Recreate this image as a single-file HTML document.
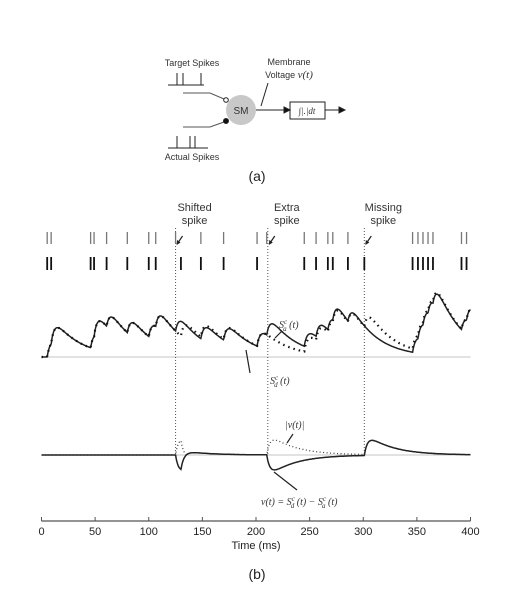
<!DOCTYPE html>
<html><head><meta charset="utf-8"><style>
body{margin:0;background:#fff}
svg{display:block;font-family:"Liberation Sans",sans-serif}
</style></head><body>
<svg id="fig" width="514" height="593" viewBox="0 0 514 593">
<g fill="none" stroke="#222" stroke-width="1">
<text x="192" y="66" font-size="9" text-anchor="middle" fill="#333" stroke="none">Target Spikes</text>
<path d="M168 85H204M177 85V73M183 85V73M201 85V73"/>
<path d="M183 93H210L224 99" stroke="#555"/>
<circle cx="226" cy="100" r="2.3" fill="#fff"/>
<path d="M183 127H210L224 122" stroke="#555"/>
<circle cx="226" cy="121" r="2.5" fill="#111"/>
<path d="M168 148H208M177 148V136M190 148V136M195 148V136"/>
<text x="192" y="160" font-size="9" text-anchor="middle" fill="#333" stroke="none">Actual Spikes</text>
<circle cx="241" cy="110" r="15" fill="#c8c8c8" stroke="none"/>
<text x="241" y="114" font-size="10" text-anchor="middle" fill="#333" stroke="none">SM</text>
<text x="289" y="65" font-size="9" text-anchor="middle" fill="#333" stroke="none">Membrane</text>
<text x="289" y="78" font-size="9" text-anchor="middle" fill="#333" stroke="none">Voltage <tspan font-family="Liberation Serif" font-style="italic" font-size="11">v(t)</tspan></text>
<path d="M268 83L261 106"/>
<path d="M256 110H286"/>
<path d="M284 107L290 110L284 113Z" fill="#111"/>
<rect x="290" y="102" width="35" height="17"/>
<text x="307" y="114" font-size="9" font-family="Liberation Serif" font-style="italic" text-anchor="middle" fill="#333" stroke="none">∫|.|dt</text>
<path d="M325 110H340"/>
<path d="M339 107L345 110L339 113Z" fill="#111"/>
</g>
<text x="257" y="181" font-size="14" text-anchor="middle" fill="#222">(a)</text>
<g id="chart"></g>
<text x="257" y="579" font-size="14" text-anchor="middle" fill="#222">(b)</text>
</svg>
<script>
const actualSpikes=[5.3,9,45.8,49,60.7,80,100,106.5,125,148.6,169.8,201,210,245,256,267,271.6,285.7,346,351,355.7,360.4,365,391.6,396.3];
const desiredSpikes=[5.3,9,45.8,49,60.7,80,100,106.5,130,148.6,169.8,201,245,256,267,271.6,285.7,301,346,351,355.7,360.4,365,391.6,396.3];
const eventTimes=[125,211,301];
const eventLabels=[["Shifted","spike"],["Extra","spike"],["Missing","spike"]];
const xTicks=[0,50,100,150,200,250,300,350,400];

const NS='http://www.w3.org/2000/svg';
const g=document.getElementById('chart');
const X=t=>41.5+t*(429/400);
const base1=357,base2=455,amp=15;
function mk(tag,at,parent){const e=document.createElementNS(NS,tag);for(const k in at)e.setAttribute(k,at[k]);(parent||g).appendChild(e);return e;}
function rawK(t){return t<0?0:Math.exp(-t/24)-Math.exp(-t/3);}
let kmax=0;for(let t=0;t<40;t+=0.1)kmax=Math.max(kmax,rawK(t));
function kern(t){return rawK(t)/kmax;}
function trace(sp,t){let s=0;for(const x of sp)s+=kern(t-x);return s;}
const ts=[];for(let t=0;t<=400;t+=0.5)ts.push(t);
function pathOf(f,base){return ts.map((t,i)=>(i?'L':'M')+X(t).toFixed(1)+' '+(base-f(t)*amp).toFixed(1)).join('');}

let e=mk('line',{x1:X(0),x2:X(400),y1:base1,y2:base1,stroke:'#c4c4c4','stroke-width':1});

e=mk('line',{x1:X(0),x2:X(400),y1:base2,y2:base2,stroke:'#c4c4c4','stroke-width':1});


eventTimes.forEach((t,i)=>{
  let l=mk('line',{x1:X(t),x2:X(t),y1:228,y2:455,stroke:'#555','stroke-width':1,'stroke-dasharray':'1,2'});
  
  let tx=mk('text',{x:X(t)+19,y:211,'font-size':11,'text-anchor':'middle',fill:'#333'});
  
  tx.innerHTML='<tspan x="'+(X(t)+19)+'">'+eventLabels[i][0]+'</tspan><tspan x="'+(X(t)+19)+'" dy="13">'+eventLabels[i][1]+'</tspan>';
  let a=mk('path',{d:'M'+(X(t)+7)+' 236L'+(X(t)+1.5)+' 244',stroke:'#222','stroke-width':1.2,fill:'none'});
  
  let h=mk('path',{d:'M'+(X(t)+1)+' 245l0.5-5l3.5 2.5z',fill:'#222'});
  
});

actualSpikes.forEach(t=>{
  let l=mk('line',{x1:X(t),x2:X(t),y1:232,y2:244,stroke:'#777','stroke-width':1.3});
  
});
desiredSpikes.forEach(t=>{
  let l=mk('line',{x1:X(t),x2:X(t),y1:257,y2:270,stroke:'#111','stroke-width':1.8});
  
});

e=mk('path',{d:pathOf(t=>trace(actualSpikes,t),base1),fill:'none',stroke:'#222','stroke-width':1.5});

e=mk('path',{d:pathOf(t=>trace(desiredSpikes,t),base1),fill:'none',stroke:'#111','stroke-width':2.2,'stroke-dasharray':'1.5,4'});

const diff=t=>trace(desiredSpikes,t)-trace(actualSpikes,t);
e=mk('path',{d:pathOf(t=>Math.abs(diff(t)),base2),fill:'none',stroke:'#444','stroke-width':1.3,'stroke-dasharray':'1,2.5'});

e=mk('path',{d:pathOf(diff,base2),fill:'none',stroke:'#222','stroke-width':1.5});


function lab(x,y,html,name,size){let t=mk('text',{x:x,y:y,'font-size':size||10,'font-family':'Liberation Serif','font-style':'italic',fill:'#333'});t.innerHTML=html;}
lab(279,328,'S<tspan font-size="7" dy="-4">c</tspan><tspan font-size="7" dy="7" dx="-4">a</tspan><tspan dy="-3"> (t)</tspan>','sa-label');
lab(270,384,'S<tspan font-size="7" dy="-4">c</tspan><tspan font-size="7" dy="7" dx="-4">d</tspan><tspan dy="-3"> (t)</tspan>','sd-label');
lab(285,428,'|v(t)|','abs-v-label');
lab(261,505,'v(t) = S<tspan font-size="7" dy="-4">c</tspan><tspan font-size="7" dy="7" dx="-4">d</tspan><tspan dy="-3"> (t) − S</tspan><tspan font-size="7" dy="-4">c</tspan><tspan font-size="7" dy="7" dx="-4">a</tspan><tspan dy="-3"> (t)</tspan>','v-equation-label');
[['M282 331L275 338','sa-arrow'],['M250 373L246 350','sd-arrow'],['M293 434L287 443','abs-v-arrow'],['M297 490L274 472','v-arrow']].forEach(p=>{
  let a=mk('path',{d:p[0],stroke:'#222','stroke-width':1.2,fill:'none'});
});

e=mk('line',{x1:X(0),x2:X(400),y1:521,y2:521,stroke:'#555','stroke-width':1.3});

xTicks.forEach(v=>{
  let l=mk('line',{x1:X(v),x2:X(v),y1:517,y2:521,stroke:'#555'});
  
  let t=mk('text',{x:X(v),y:535,'font-size':11,'text-anchor':'middle',fill:'#222'});
  t.textContent=v;
});
e=mk('text',{x:X(200),y:549,'font-size':11,'text-anchor':'middle',fill:'#222'});
e.textContent='Time (ms)';
</script>
</body></html>
